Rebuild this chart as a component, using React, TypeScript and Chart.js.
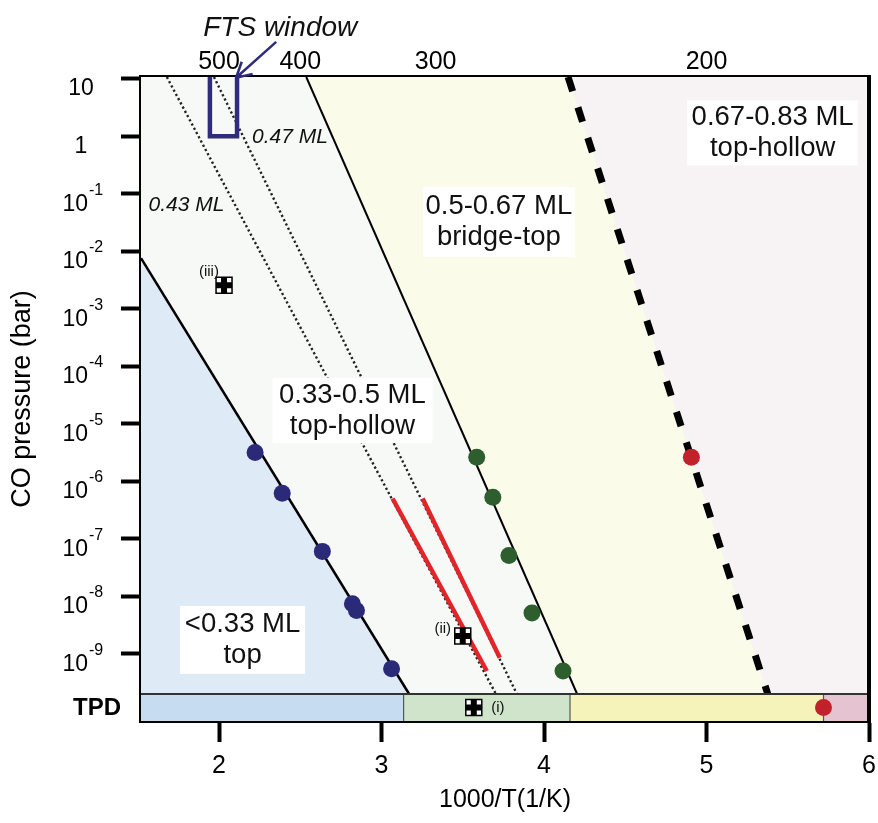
import React, { useEffect, useRef } from 'react';
import { Chart, registerables } from 'chart.js';
Chart.register(...registerables);

// ---------- axis ranges (1000/T and log10 of CO pressure) ----------
const X_MIN = 1.52;
const X_MAX = 6.0;
const LOGP_MIN = -10.17;
const LOGP_MAX = 1.03;
const LOGP_STRIP = -9.7; // border between phase diagram and TPD strip
const LOGP_TPD = -9.935; // centre of TPD strip

const bottomTicks = [2, 3, 4, 5, 6];
const topTempTicks = [500, 400, 300, 200];
const pressureTicks = [1, 0, -1, -2, -3, -4, -5, -6, -7, -8, -9];

// ---------- phase boundaries ----------
const lineTopX = [1.52, 3.17];
const lineTopLogP = [-2.12, -9.7];
const lineBridgeX = [2.537, 4.204];
const lineBridgeLogP = [1.03, -9.7];
const lineHollowX = [4.148, 5.377];
const lineHollowLogP = [1.03, -9.7];
const line043X = [1.679, 3.704];
const line043LogP = [1.03, -9.7];
const line047X = [1.969, 3.833];
const line047LogP = [1.03, -9.7];
const redSeg1X = [3.068, 3.648];
const redSeg1LogP = [-6.3, -9.3];
const redSeg2X = [3.253, 3.728];
const redSeg2LogP = [-6.3, -9.07];

// ---------- data points ----------
const topDotsX = [2.222, 2.389, 2.636, 2.821, 2.846, 3.062];
const topDotsLogP = [-5.5, -6.21, -7.22, -8.13, -8.25, -9.26];
const bridgeDotsX = [3.586, 3.685, 3.784, 3.926, 4.117];
const bridgeDotsLogP = [-5.585, -6.28, -7.29, -8.29, -9.3];
const hollowDotsX = [4.907];
const hollowDotsLogP = [-5.585];
const tpdRedX = [5.72];

const crossX = [2.031, 3.5, 3.568];
const crossLogP = [-2.59, -8.69, LOGP_TPD];
const crossNames = ['(iii)', '(ii)', '(i)'];

// FTS window: 1 to 10 bar, 1000/T from 1.944 to 2.111
const ftsX = [1.944, 1.944, 2.111, 2.111];
const ftsLogP = [1.03, 0, 0, 1.03];

// TPD strip segments
const tpdBounds = [1.52, 3.136, 4.16, 5.72, 6.0];
const tpdColors = ['#c6dcf0', '#d0e4cc', '#f5f3b9', '#e6c3d0'];

const FONT = 'Liberation Sans, Arial, Helvetica, sans-serif';

const pts = (xs: number[], ys: number[]) => xs.map((x, i) => ({ x, y: ys[i] }));

const regionLabels = [
  { lines: ['0.67-0.83 ML', 'top-hollow'], x: 5.407, y: 0.059, w: 171, h: 65 },
  { lines: ['0.5-0.67 ML', 'bridge-top'], x: 3.722, y: -1.49, w: 152, h: 70 },
  { lines: ['0.33-0.5 ML', 'top-hollow'], x: 2.821, y: -4.77, w: 160, h: 65 },
  { lines: ['<0.33 ML', 'top'], x: 2.145, y: -8.76, w: 125, h: 68 },
];
const italicLabels = [
  { text: '0.47 ML', x: 2.437, y: -0.01 },
  { text: '0.43 ML', x: 1.8, y: -1.195 },
];
const crossLabelPos = [
  { x: 1.938, y: -2.36 },
  { x: 3.377, y: -8.56 },
  { x: 3.716, y: LOGP_TPD },
];

const decorPlugin = {
  id: 'decor',
  beforeDatasetsDraw(chart: any) {
    const { ctx, chartArea: a, scales } = chart;
    const X = (v: number) => scales.x.getPixelForValue(v);
    const Y = (v: number) => scales.y.getPixelForValue(v);
    ctx.save();
    ctx.fillStyle = '#f7f9f6';
    ctx.fillRect(a.left, a.top, a.right - a.left, Y(LOGP_STRIP) - a.top);
    for (let i = 0; i < tpdColors.length; i++) {
      ctx.fillStyle = tpdColors[i];
      ctx.fillRect(X(tpdBounds[i]), Y(LOGP_STRIP), X(tpdBounds[i + 1]) - X(tpdBounds[i]), a.bottom - Y(LOGP_STRIP));
    }
    ctx.strokeStyle = '#555';
    ctx.lineWidth = 1.2;
    for (let i = 1; i < tpdBounds.length - 1; i++) {
      ctx.beginPath();
      ctx.moveTo(X(tpdBounds[i]), Y(LOGP_STRIP));
      ctx.lineTo(X(tpdBounds[i]), a.bottom);
      ctx.stroke();
    }
    ctx.restore();
  },
  afterDatasetsDraw(chart: any) {
    const { ctx, chartArea: a, scales } = chart;
    const X = (v: number) => scales.x.getPixelForValue(v);
    const Y = (v: number) => scales.y.getPixelForValue(v);
    ctx.save();
    // strip separator
    ctx.strokeStyle = '#333';
    ctx.lineWidth = 2;
    ctx.beginPath();
    ctx.moveTo(a.left, Y(LOGP_STRIP));
    ctx.lineTo(a.right, Y(LOGP_STRIP));
    ctx.stroke();

    // region labels
    ctx.textAlign = 'center';
    ctx.textBaseline = 'middle';
    regionLabels.forEach((l) => {
      const cx = X(l.x);
      const cy = Y(l.y);
      ctx.fillStyle = '#ffffff';
      ctx.fillRect(cx - l.w / 2, cy - l.h / 2, l.w, l.h);
      ctx.fillStyle = '#111';
      ctx.font = `27.5px ${FONT}`;
      l.lines.forEach((t, i) => ctx.fillText(t, cx, cy + (i - (l.lines.length - 1) / 2) * 31));
    });
    ctx.font = `italic 21px ${FONT}`;
    italicLabels.forEach((l) => ctx.fillText(l.text, X(l.x), Y(l.y)));

    ctx.font = `15px ${FONT}`;
    crossLabelPos.forEach((p, i) => ctx.fillText(crossNames[i], X(p.x), Y(p.y)));

    // TPD label
    ctx.font = `bold 24px ${FONT}`;
    ctx.fillStyle = '#000';
    ctx.fillText('TPD', a.left - 44, Y(LOGP_TPD) + 1);

    // FTS window annotation
    ctx.font = `italic 28px ${FONT}`;
    ctx.fillStyle = '#111';
    ctx.fillText('FTS window', X(2.377), Y(1.88));
    const x0 = X(2.352), y0 = Y(1.64), x1 = X(2.105), y1 = Y(1.017);
    ctx.strokeStyle = '#2f2c7e';
    ctx.lineWidth = 2.5;
    ctx.beginPath();
    ctx.moveTo(x0, y0);
    ctx.lineTo(x1, y1);
    const ang = Math.atan2(y0 - y1, x0 - x1);
    [0.5, -0.5].forEach((d) => {
      ctx.moveTo(x1, y1);
      ctx.lineTo(x1 + 17 * Math.cos(ang + d), y1 + 17 * Math.sin(ang + d));
    });
    ctx.stroke();
    ctx.restore();
  },
  afterDraw(chart: any) {
    const { ctx, chartArea: a, scales } = chart;
    const Y = (v: number) => scales.y.getPixelForValue(v);
    ctx.save();
    // right frame
    ctx.strokeStyle = '#000';
    ctx.lineWidth = 4;
    ctx.beginPath();
    ctx.moveTo(a.right, a.top - 2);
    ctx.lineTo(a.right, a.bottom + 2);
    ctx.stroke();
    // pressure tick labels: 10 with raised exponent
    ctx.fillStyle = '#000';
    ctx.textBaseline = 'alphabetic';
    pressureTicks.forEach((v) => {
      const y = Y(v);
      if (v === 1 || v === 0) {
        ctx.font = `23px ${FONT}`;
        ctx.textAlign = 'center';
        ctx.fillText(v === 1 ? '10' : '1', 81, y + 16.5);
      } else {
        ctx.font = `23px ${FONT}`;
        ctx.textAlign = 'right';
        ctx.fillText('10', 88, y + 17);
        ctx.font = `16px ${FONT}`;
        ctx.textAlign = 'left';
        ctx.fillText(String(v), 89, y + 1);
      }
    });
    ctx.restore();
  },
};

export default function App() {
  const ref = useRef<HTMLCanvasElement>(null);
  useEffect(() => {
    document.body.style.margin = '0';
    const canvas = ref.current!;
    const lineDs = (xs: number[], ys: number[], extra: any) => ({
      data: pts(xs, ys),
      showLine: true,
      pointRadius: 0,
      fill: false,
      borderColor: '#000',
      borderWidth: 2,
      ...extra,
    });
    const dotDs = (xs: number[], ys: number[], color: string, extra: any = {}) => ({
      data: pts(xs, ys),
      showLine: false,
      pointRadius: 8.5,
      pointBackgroundColor: color,
      pointBorderWidth: 0,
      borderColor: color,
      order: 1,
      ...extra,
    });
    const noSidePad = (s: any) => {
      s.paddingLeft = 0;
      s.paddingRight = 0;
    };
    const chart = new Chart(canvas, {
      type: 'line',
      data: {
        datasets: [
          // region fills
          lineDs(lineTopX, lineTopLogP, { borderWidth: 0, backgroundColor: '#dfeaf7', fill: { value: LOGP_STRIP }, order: 10 }),
          lineDs([...lineBridgeX, X_MAX], [...lineBridgeLogP, LOGP_STRIP], { borderWidth: 0, backgroundColor: '#fafbe9', fill: 'end', order: 11 }),
          lineDs([...lineHollowX, X_MAX], [...lineHollowLogP, LOGP_STRIP], { borderWidth: 0, backgroundColor: '#f7f3f5', fill: 'end', order: 9 }),
          // boundaries
          lineDs(line043X, line043LogP, { borderWidth: 2.4, borderColor: '#222', borderDash: [2.2, 2.6], order: 5 }),
          lineDs(line047X, line047LogP, { borderWidth: 2.4, borderColor: '#222', borderDash: [2.2, 2.6], order: 5 }),
          lineDs(redSeg1X, redSeg1LogP, { borderWidth: 4.5, borderColor: '#e0262b', order: 4 }),
          lineDs(redSeg2X, redSeg2LogP, { borderWidth: 4.5, borderColor: '#e0262b', order: 4 }),
          lineDs(lineTopX, lineTopLogP, { borderWidth: 2.5, order: 5 }),
          lineDs(lineBridgeX, lineBridgeLogP, { borderWidth: 2, order: 5 }),
          lineDs(lineHollowX, lineHollowLogP, { borderWidth: 7, borderDash: [15, 17], borderCapStyle: 'butt', order: 5 }),
          lineDs(ftsX, ftsLogP, { borderWidth: 4.5, borderColor: '#2f2c7e', order: 3 }),
          // points
          dotDs(topDotsX, topDotsLogP, '#2b2a78'),
          dotDs(bridgeDotsX, bridgeDotsLogP, '#2e5e2e'),
          dotDs(hollowDotsX, hollowDotsLogP, '#c0212b'),
          dotDs(tpdRedX, [LOGP_TPD], '#c0212b'),
          {
            data: pts(crossX, crossLogP),
            showLine: false,
            pointStyle: 'rect',
            pointRadius: 11.3,
            pointBackgroundColor: '#ffffff',
            pointBorderColor: '#000',
            pointBorderWidth: 1.5,
            order: 0,
          },
          {
            data: pts(crossX, crossLogP),
            showLine: false,
            pointStyle: 'cross',
            pointRadius: 8,
            pointBorderColor: '#000',
            pointBorderWidth: 6,
            borderColor: '#000',
            order: -1,
          },
        ] as any,
      },
      options: {
        animation: false,
        responsive: false,
        devicePixelRatio: 1,
        layout: { autoPadding: false, padding: { left: 0, right: 9, top: 0, bottom: 0 } },
        plugins: { legend: { display: false }, tooltip: { enabled: false } },
        elements: { line: { tension: 0 } },
        scales: {
          x: {
            type: 'linear',
            position: 'bottom',
            min: X_MIN,
            max: X_MAX,
            z: 1,
            afterBuildTicks: (s: any) => {
              s.ticks = bottomTicks.map((v) => ({ value: v }));
            },
            afterFit: (s: any) => {
              s.height = 102;
              noSidePad(s);
            },
            ticks: { color: '#000', font: { family: FONT, size: 25 }, padding: 9, maxRotation: 0, callback: (v: any) => String(v) },
            grid: { drawOnChartArea: false, drawTicks: true, tickLength: 21, tickWidth: 4, tickColor: '#000' },
            border: { display: true, color: '#000', width: 4 },
            title: { display: true, text: '1000/T(1/K)', color: '#000', font: { family: FONT, size: 25 }, padding: { top: 0, bottom: 8 } },
          },
          xTop: {
            type: 'linear',
            position: 'top',
            min: X_MIN,
            max: X_MAX,
            z: 1,
            afterBuildTicks: (s: any) => {
              s.ticks = topTempTicks.map((t) => ({ value: 1000 / t }));
            },
            afterFit: (s: any) => {
              s.height = 77;
              noSidePad(s);
            },
            ticks: { color: '#000', font: { family: FONT, size: 25 }, padding: 0, maxRotation: 0, callback: (v: any) => String(Math.round(1000 / Number(v))) },
            grid: { display: false, drawTicks: false },
            border: { display: true, color: '#000', width: 4 },
          },
          y: {
            type: 'linear',
            min: LOGP_MIN,
            max: LOGP_MAX,
            z: 1,
            afterBuildTicks: (s: any) => {
              s.ticks = pressureTicks.map((v) => ({ value: v }));
            },
            afterFit: (s: any) => {
              s.width = 141;
              s.paddingTop = 0;
              s.paddingBottom = 0;
            },
            ticks: { display: false },
            grid: { drawOnChartArea: false, drawTicks: true, tickLength: 20, tickWidth: 4, tickColor: '#000' },
            border: { display: true, color: '#000', width: 4 },
            title: { display: true, text: 'CO pressure (bar)', color: '#000', font: { family: FONT, size: 27 }, padding: { top: 6, bottom: 0 } },
          },
        },
      } as any,
      plugins: [decorPlugin],
    });
    return () => chart.destroy();
  }, []);
  return (
    <div style={{ width: 878, height: 823 }}>
      <canvas ref={ref} width={878} height={823} style={{ display: 'block' }} />
    </div>
  );
}
